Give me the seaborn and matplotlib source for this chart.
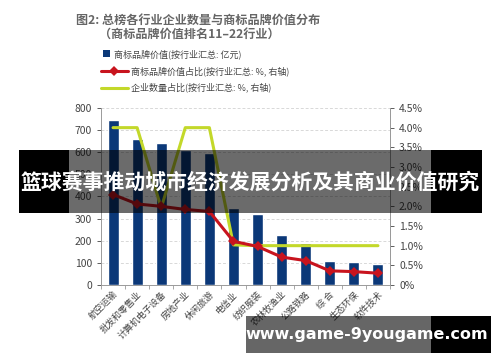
import numpy as np
import pandas as pd
import matplotlib
matplotlib.use("Agg")
import matplotlib.pyplot as plt
from matplotlib.lines import Line2D
from matplotlib.patches import Patch, Rectangle
import seaborn as sns

industries = ['航空运输', '批发和零售业', '计算机电子设备', '房地产业', '休闲旅游', '电信业',
              '纺织服装', '农林牧渔业', '公路铁路', '综 合', '生态环保', '软件技术']
brand_value = [745, 660, 643, 612, 598, 347, 320, 225, 191, 110, 105, 93]
value_share = [2.30, 2.06, 2.00, 1.92, 1.87, 1.11, 0.98, 0.71, 0.62, 0.36, 0.34, 0.30]
count_share = [4.0, 4.0, 1.96, 4.0, 4.0, 1.02, 1.0, 1.0, 1.0, 1.0, 1.0, 1.0]

df = pd.DataFrame({'industry': industries, 'value': brand_value,
                   'vshare': value_share, 'cshare': count_share})
df['pos'] = np.arange(len(df))

sns.set_theme(style="white")
plt.rcParams['font.family'] = ['Noto Sans CJK SC', 'DejaVu Sans']

colors = {
    'bar': '#0b3878',
    'red': '#c8141e',
    'green': '#c3d82a',
    'text': '#444444',
    'axis': '#9a9a9a',
}

fig = plt.figure(figsize=(5, 3.62), dpi=100)
ax = fig.add_axes([0.202, 0.2127, 0.578, 0.489])

sns.barplot(data=df, x='industry', y='value', color=colors['bar'], width=0.46,
            saturation=1, ax=ax, zorder=2)
ax.set_ylim(0, 800)
ax.set_xlim(-0.5, len(df) - 0.5)
ax.set_yticks(range(0, 801, 100))
ax.set_xlabel('')
ax.set_ylabel('')
ax.yaxis.grid(True, linestyle=(0, (3, 2)), color='#d8d8d8', linewidth=0.7, zorder=0)
ax.tick_params(axis='y', labelsize=7.5, colors=colors['text'], length=3, width=0.6,
               direction='out', left=True)
ax.tick_params(axis='x', which='major', labelsize=6.5, colors=colors['text'], length=0)
ax.set_xticks(np.append(df['pos'].to_numpy(), len(df)) - 0.5, minor=True)
ax.tick_params(axis='x', which='minor', length=3, width=0.6, color=colors['axis'],
               direction='out', bottom=True)
plt.setp(ax.get_xticklabels(), rotation=45, ha='right', rotation_mode='anchor')
ax.spines['top'].set_visible(False)
for s in ['left', 'bottom', 'right']:
    ax.spines[s].set_color(colors['axis'])
    ax.spines[s].set_linewidth(0.7)

ax2 = ax.twinx()
sns.lineplot(data=df, x='pos', y='cshare', color=colors['green'], linewidth=2.2,
             ax=ax2, zorder=3)
sns.lineplot(data=df, x='pos', y='vshare', color=colors['red'], linewidth=2.2,
             marker='D', markersize=5.5, markeredgewidth=0, ax=ax2, zorder=4)
ax2.set_ylim(0, 4.5)
ax2.set_yticks(np.arange(0, 4.51, 0.5))
ax2.set_yticklabels(['0%'] + [f'{v:.1f}%' for v in np.arange(0.5, 4.51, 0.5)])
ax2.tick_params(axis='y', labelsize=7.5, colors=colors['text'], length=3, width=0.6,
                direction='out', right=True)
ax2.set_xlabel('')
ax2.set_ylabel('')
ax2.grid(False)
for s in ['top', 'left', 'bottom']:
    ax2.spines[s].set_visible(False)
ax2.spines['right'].set_color(colors['axis'])
ax2.spines['right'].set_linewidth(0.7)

# title
fig.text(0.152, 0.945, '图2: 总榜各行业企业数量与商标品牌价值分布', fontsize=8.7,
         fontweight='bold', color='#666666', va='center', ha='left')
fig.text(0.198, 0.906, '（商标品牌价值排名11–22行业）', fontsize=8.7,
         fontweight='bold', color='#666666', va='center', ha='left')

# legend: small square for the bars, line handles for the two shares
fig.legend([Patch(facecolor=colors['bar'], edgecolor='none')],
           ['商标品牌价值(按行业汇总: 亿元)'],
           loc='center left', bbox_to_anchor=(0.19, 1 - 54 / 362),
           frameon=False, fontsize=6.5, labelcolor=colors['text'],
           handlelength=0.75, handleheight=0.75, handletextpad=0.5)
line_handles = [
    Line2D([], [], color=colors['red'], linewidth=2.2, marker='D', markersize=5.5,
           markeredgewidth=0),
    Line2D([], [], color=colors['green'], linewidth=2.2),
]
fig.legend(line_handles,
           ['商标品牌价值占比(按行业汇总: %, 右轴)', '企业数量占比(按行业汇总: %, 右轴)'],
           loc='center left', bbox_to_anchor=(0.185, 1 - 79.5 / 362),
           frameon=False, fontsize=6.5, labelcolor=colors['text'],
           handlelength=3.0, handleheight=0.6, labelspacing=0.75, handletextpad=0.4)

# overlay banner
fig.patches.append(Rectangle((19 / 500, 1 - 213 / 362), 463 / 500, 63 / 362,
                             transform=fig.transFigure, facecolor='black', alpha=0.58,
                             edgecolor='none', zorder=10))
fig.patches.append(Rectangle((19 / 500, 1 - 213 / 362), 50 / 500, 63 / 362,
                             transform=fig.transFigure, facecolor='black',
                             edgecolor='none', zorder=10))
fig.patches.append(Rectangle((431 / 500, 1 - 213 / 362), 51 / 500, 63 / 362,
                             transform=fig.transFigure, facecolor='black',
                             edgecolor='none', zorder=10))
fig.text(0.5, 1 - 182 / 362, '篮球赛事推动城市经济发展分析及其商业价值研究', fontsize=15,
         fontweight='bold', color='white', ha='center', va='center', zorder=11)

# footer watermark
fig.patches.append(Rectangle((246 / 500, 1 - 353 / 362), 245 / 500, 37 / 362,
                             transform=fig.transFigure, facecolor='black', alpha=0.6,
                             edgecolor='none', zorder=10))
fig.patches.append(Rectangle((431 / 500, 1 - 353 / 362), 60 / 500, 37 / 362,
                             transform=fig.transFigure, facecolor='black',
                             edgecolor='none', zorder=10))
fig.text(367 / 500, 1 - 335 / 362, 'www.game-9yougame.com', fontsize=11.5,
         fontweight='bold', color='white', ha='center', va='center', zorder=11,
         family='DejaVu Sans')

fig.savefig('out.png', dpi=100)
